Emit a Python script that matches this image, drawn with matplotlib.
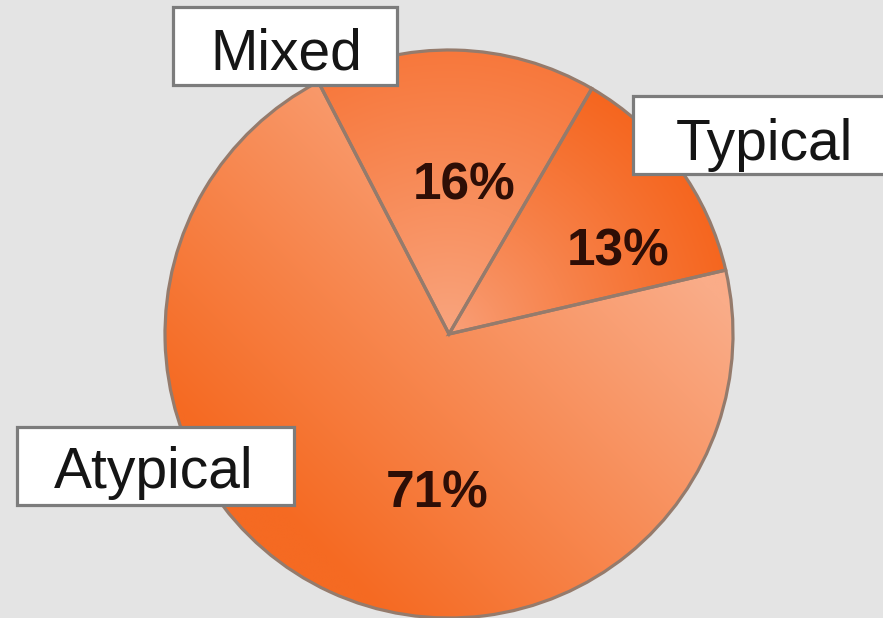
import numpy as np
import matplotlib
matplotlib.use('Agg')
import matplotlib.pyplot as plt
from matplotlib.patches import Rectangle
from matplotlib.colors import to_rgb

# ---- data ----
labels = ['Typical', 'Mixed', 'Atypical']
values = [13, 16, 71]
pct_labels = ['13%', '16%', '71%']

W, H = 883, 618
fig = plt.figure(figsize=(W / 100, H / 100), dpi=100)
fig.patch.set_facecolor('#E4E4E4')
ax = fig.add_axes([0, 0, 1, 1])
ax.set_facecolor('#E4E4E4')


def py(y):
    return H - y


cx, cy, R = 449, py(334), 284
wedges, _ = ax.pie(values, startangle=13, counterclock=True, radius=R,
                   center=(cx, cy), frame=True,
                   wedgeprops=dict(edgecolor='none'))
ax.set_xlim(0, W)
ax.set_ylim(0, H)
ax.set_aspect('equal')
ax.axis('off')

# gradient fills
n = 500
xs = np.linspace(cx - R, cx + R, n)
ys = np.linspace(cy - R, cy + R, n)
X, Y = np.meshgrid(xs, ys)
rr = np.clip(np.hypot(X - cx, Y - cy) / R, 0, 1)


def lerp(c1, c2, t):
    a = np.array(to_rgb(c1))
    b = np.array(to_rgb(c2))
    t = np.clip(t, 0, 1)[..., None]
    return a * (1 - t) + b * t


lin = (-(X - cx) * 0.7 - (Y - cy) * 0.7) / R
grads = [
    lerp('#F9A27C', '#F5661F', rr ** 0.8),
    lerp('#F9A680', '#F7783C', rr ** 0.9),
    lerp('#FAAC88', '#F56A22', (lin + 0.75) / 1.6),
]
for w, g in zip(wedges, grads):
    im = ax.imshow(g, origin='lower', extent=(cx - R, cx + R, cy - R, cy + R),
                   zorder=2, interpolation='bilinear')
    im.set_clip_path(w)
    w.set_facecolor('none')
    w.set_edgecolor('#957B6C')
    w.set_linewidth(2.3)
    w.set_zorder(3)

# percentage labels
pct_pos = [(618, 265), (464, 200), (437, 508)]
for (x, y), t in zip(pct_pos, pct_labels):
    ax.text(x, py(y), t, ha='center', va='baseline', fontsize=37,
            fontweight='bold', family='Liberation Sans', color='#2E0E06',
            zorder=5)

# category label boxes
boxes = {
    'Typical': (633, 96, 900, 174),
    'Mixed': (173, 7, 397, 85),
    'Atypical': (17, 427, 294, 505),
}
text_pos = {
    'Typical': (676, 160, 'left'),
    'Mixed': (286, 70, 'center'),
    'Atypical': (54, 488, 'left'),
}
for lab in labels:
    x0, y0, x1, y1 = boxes[lab]
    ax.add_patch(Rectangle((x0, py(y1)), x1 - x0, y1 - y0, facecolor='white',
                           edgecolor='#7C7C7C', linewidth=2.3, zorder=6))
    tx, ty, ha = text_pos[lab]
    ax.text(tx, py(ty), lab, ha=ha, va='baseline', fontsize=41,
            family='Liberation Sans', color='#151515', zorder=7)

fig.savefig('out.png', dpi=100, facecolor=fig.get_facecolor())
